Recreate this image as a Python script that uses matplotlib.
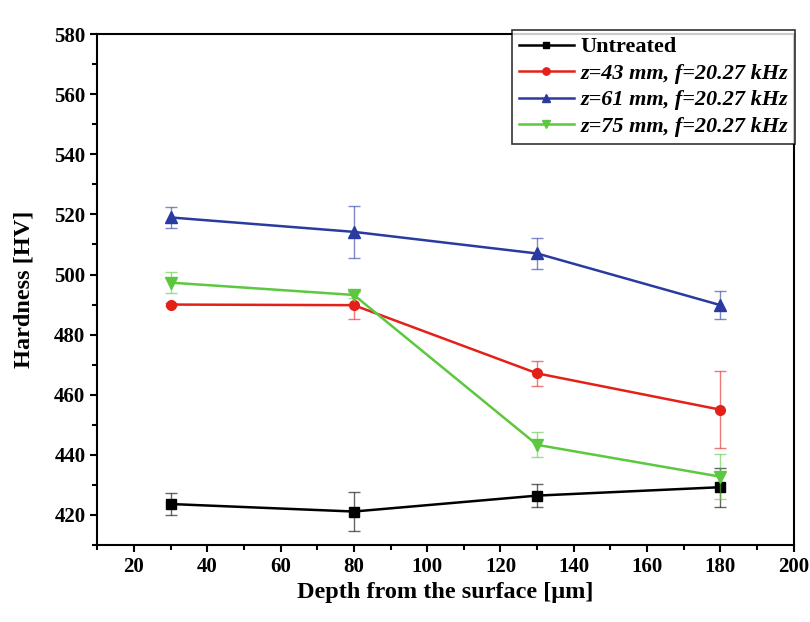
import matplotlib
matplotlib.use("Agg")
import matplotlib.pyplot as plt
from matplotlib.ticker import MultipleLocator

plt.rcParams['font.family'] = ['Liberation Serif', 'DejaVu Serif']
plt.rcParams['font.weight'] = 'bold'

depth = [30, 80, 130, 180]

untreated = [423.6, 421.1, 426.4, 429.2]
untreated_err = [3.6, 6.4, 3.7, 6.5]

z43 = [490.0, 489.8, 467.1, 455.0]
z43_err = [0.5, 4.7, 4.2, 12.8]

z61 = [519.0, 514.2, 507.0, 489.8]
z61_err = [3.6, 8.6, 5.0, 4.7]

z75 = [497.3, 493.2, 443.3, 432.7]
z75_err = [3.6, 1.0, 4.2, 7.4]

series = [
    ('Untreated', untreated, untreated_err, '#000000', 's', 6.5),
    ('z=43 mm, f=20.27 kHz', z43, z43_err, '#e32119', 'o', 7),
    ('z=61 mm, f=20.27 kHz', z61, z61_err, '#2a3aa0', '^', 8),
    ('z=75 mm, f=20.27 kHz', z75, z75_err, '#5cc840', 'v', 8),
]

fig = plt.figure(figsize=(8.1, 6.22), dpi=100)
ax = fig.add_axes([0.12, 0.124, 0.86, 0.821])

for label, vals, err, color, marker, ms in series:
    ax.errorbar(depth, vals, yerr=err, fmt='none', ecolor=color, elinewidth=1,
                capsize=4, capthick=1, alpha=0.6)
    ax.plot(depth, vals, color=color, marker=marker, markersize=ms, lw=1.8,
            label=label)

ax.set_xlim(10, 200)
ax.set_ylim(410, 580)
ax.xaxis.set_major_locator(MultipleLocator(20))
ax.xaxis.set_minor_locator(MultipleLocator(10))
ax.yaxis.set_major_locator(MultipleLocator(20))
ax.yaxis.set_minor_locator(MultipleLocator(10))
ax.tick_params(which='both', direction='out', top=False, right=False,
               labelsize=15, width=1.5)
ax.tick_params(which='major', length=5)
ax.tick_params(which='minor', length=3.5)
for s in ax.spines.values():
    s.set_linewidth(1.5)

ax.set_xlabel('Depth from the surface [\u03bcm]', fontsize=17.5,
              fontweight='bold', labelpad=4)
ax.set_ylabel('Hardness [HV]', fontsize=17.5, fontweight='bold', labelpad=14)

leg = ax.legend(loc='upper right', bbox_to_anchor=(1.002, 1.008), fontsize=16,
                frameon=True, fancybox=False, handlelength=2.5,
                borderpad=0.3, labelspacing=0.27, handletextpad=0.3,
                borderaxespad=0, markerscale=0.75)
leg.get_frame().set_edgecolor('black')
leg.get_frame().set_linewidth(1.2)
for i, t in enumerate(leg.get_texts()):
    t.set_fontweight('bold')
    if i > 0:
        t.set_fontstyle('italic')

fig.savefig('out.png', dpi=100)
